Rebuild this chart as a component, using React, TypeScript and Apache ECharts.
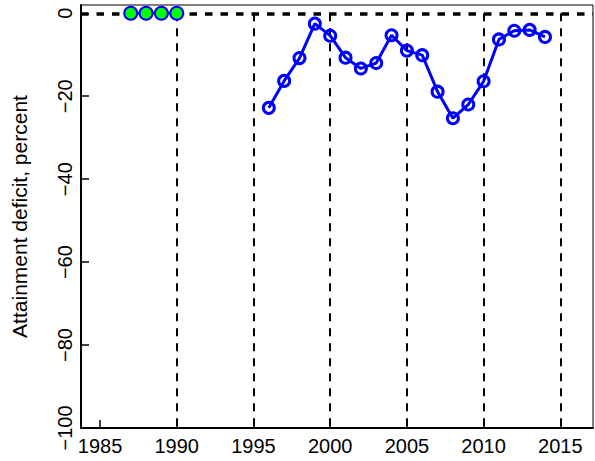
import React, { useEffect, useRef } from "react";
import * as echarts from "echarts";

const greenYears = [1987, 1988, 1989, 1990];
const greenValues = [0, 0, 0, 0];
const blueYears = [1996, 1997, 1998, 1999, 2000, 2001, 2002, 2003, 2004, 2005, 2006, 2007, 2008, 2009, 2010, 2011, 2012, 2013, 2014];
const blueValues = [-22.8, -16.3, -10.8, -2.5, -5.4, -10.7, -13.3, -12.0, -5.3, -9.0, -10.1, -18.9, -25.3, -22.0, -16.4, -6.3, -4.2, -4.0, -5.7];
const vlineYears = [1990, 1995, 2000, 2005, 2010, 2015];
const xTicks = [1985, 1990, 1995, 2000, 2005, 2010, 2015];
const yTicks = [0, -20, -40, -60, -80, -100];
const yTitle = "Attainment deficit, percent";

const FONT = "'Liberation Sans', Arial, Helvetica, sans-serif";

export default function App() {
  const ref = useRef<HTMLDivElement>(null);
  useEffect(() => {
    if (!ref.current) return;
    const chart = echarts.init(ref.current, undefined, { renderer: "svg" });
    const fmtY = (v: number) => (v < 0 ? "\u2212" + Math.abs(v) : String(v));
    chart.setOption({
      animation: false,
      backgroundColor: "#ffffff",
      grid: {
        left: 81,
        right: 2,
        top: 5,
        bottom: 33,
        show: true,
        borderColor: "#000",
        borderWidth: 1,
        containLabel: false,
        outerBoundsMode: "none",
      },
      xAxis: {
        type: "value",
        min: 1983.76,
        max: 2017.13,
        splitLine: { show: false },
        axisLine: { show: true, onZero: false, lineStyle: { color: "#000", width: 2 } },
        axisTick: { show: true, inside: true, length: 8, lineStyle: { color: "#000", width: 1.5 }, customValues: xTicks },
        axisLabel: {
          show: true,
          customValues: xTicks,
          color: "#000",
          fontFamily: FONT,
          fontSize: 20,
          margin: 8,
          formatter: (v: number) => String(v),
        },
      },
      yAxis: {
        type: "value",
        min: -100,
        max: 2,
        splitLine: { show: false },
        axisLine: { show: true, onZero: false, lineStyle: { color: "#000", width: 2 } },
        axisTick: { show: true, inside: true, length: 8, lineStyle: { color: "#000", width: 1.5 }, customValues: yTicks },
        axisLabel: {
          show: true,
          customValues: yTicks,
          rotate: 90,
          color: "#000",
          fontFamily: FONT,
          fontSize: 20,
          margin: 6,
          formatter: fmtY,
        },
        name: yTitle,
        nameLocation: "middle",
        nameRotate: 90,
        nameGap: 51,
        nameTextStyle: { color: "#000", fontFamily: FONT, fontSize: 21 },
      },
      series: [
        {
          type: "line",
          data: [],
          z: 1,
          silent: true,
          markLine: {
            silent: true,
            symbol: ["none", "none"],
            label: { show: false },
            data: vlineYears.map((y) => [
              { coord: [y, 0], lineStyle: { color: "#000", width: 2, type: [8, 7] } },
              { coord: [y, -100] },
            ]),
          },
        },
        {
          type: "line",
          data: [],
          z: 2,
          silent: true,
          markLine: {
            silent: true,
            symbol: ["none", "none"],
            label: { show: false },
            lineStyle: { color: "#000", width: 3.5, type: [7.5, 8] },
            data: [{ yAxis: 0 }],
          },
        },
        {
          type: "line",
          z: 5,
          data: greenYears.map((y, i) => [y, greenValues[i]]),
          symbol: "circle",
          symbolSize: 13,
          lineStyle: { color: "#0000ff", width: 3 },
          itemStyle: { color: "#00ff00", borderColor: "#0000ff", borderWidth: 2 },
        },
        {
          type: "line",
          z: 5,
          data: blueYears.map((y, i) => [y, blueValues[i]]),
          symbol: "circle",
          symbolSize: 11,
          lineStyle: { color: "#0000ff", width: 3 },
          itemStyle: { color: "rgba(0,0,0,0)", borderColor: "#0000ff", borderWidth: 3 },
        },
      ],
    });
    return () => chart.dispose();
  }, []);
  return <div ref={ref} style={{ position: "fixed", left: 0, top: 0, width: 595, height: 461 }} />;
}
